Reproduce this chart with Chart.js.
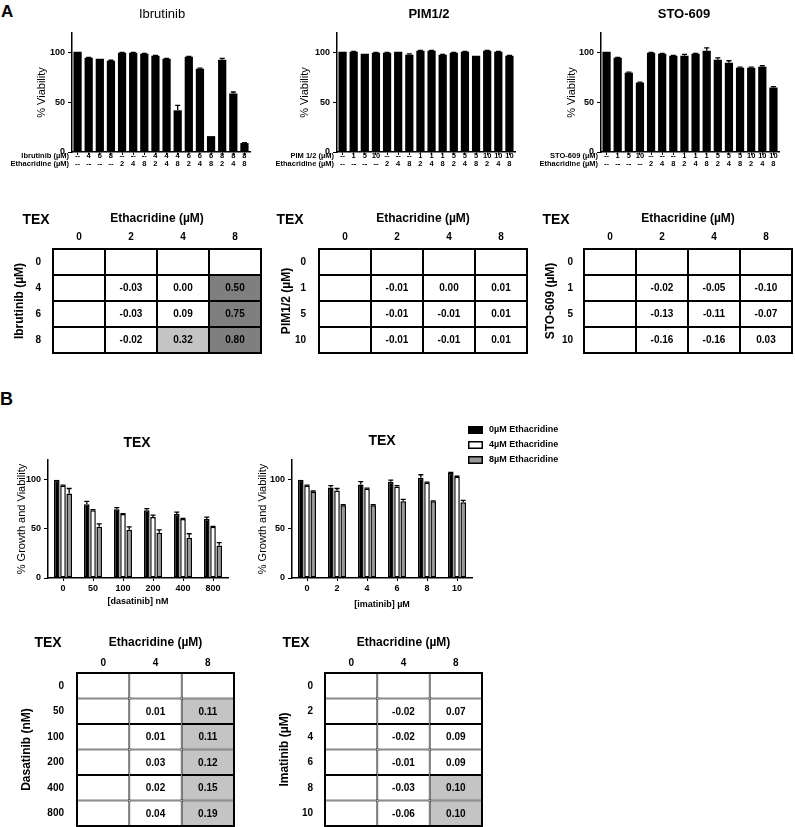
<!DOCTYPE html>
<html><head><meta charset="utf-8">
<script src="https://cdn.jsdelivr.net/npm/chart.js@4.4.1/dist/chart.umd.min.js"></script>
<style>
html,body{margin:0;padding:0;overflow:hidden;background:#fff}
body{width:795px;height:827px;position:relative;font-family:"Liberation Sans",Arial,Helvetica,sans-serif}
.panel{position:absolute;font-weight:bold;line-height:1;color:#000}
</style></head><body>
<div class="panel" style="left:1px;top:3px;font-size:17px">A</div>
<div class="panel" style="left:0px;top:390px;font-size:18px">B</div>
<script>
// ---------- Panel A data ----------
const ibrutinibDose   = ['--','4','6','8','--','--','--','4','4','4','6','6','6','8','8','8'];
const pimDose         = ['--','1','5','10','--','--','--','1','1','1','5','5','5','10','10','10'];
const stoDose         = ['--','1','5','10','--','--','--','1','1','1','5','5','5','10','10','10'];
const ethacridineDose = ['--','--','--','--','2','4','8','2','4','8','2','4','8','2','4','8'];
const ibrutinibViability = [101,95,94,92,100,100,99,97,94,42,96,84,16,93,59,9];
const ibrutinibErr       = [0,0.5,0,0.5,0.5,0.5,0.5,0.5,0.5,5,0.5,0.5,0,1.5,1.5,0.5];
const pimViability = [101,101,99,100,100,101,98,102,102,98,100,101,97,102,101,97];
const pimErr       = [0,0.5,0,0.5,0.5,0,1,0.5,0.5,0.5,0.5,0.5,0,0.5,0.5,0.5];
const stoViability = [101,95,80,70,100,99,97,97,99,102,93,90,85,85,86,65];
const stoErr       = [0,0.5,0.5,0.5,0.5,0.5,0.5,1.5,0.5,3,2,2,0.5,0.5,1,1];

// ---------- Panel A tables (synergy scores) ----------
const ethacridineColsA = ['0','2','4','8'];
const ibrutinibRows = ['0','4','6','8'];
const ibrutinibScores = [[null,null,null,null],[null,-0.03,0.00,0.50],[null,-0.03,0.09,0.75],[null,-0.02,0.32,0.80]];
const pimRows = ['0','1','5','10'];
const pimScores = [[null,null,null,null],[null,-0.01,0.00,0.01],[null,-0.01,-0.01,0.01],[null,-0.01,-0.01,0.01]];
const stoRows = ['0','1','5','10'];
const stoScores = [[null,null,null,null],[null,-0.02,-0.05,-0.10],[null,-0.13,-0.11,-0.07],[null,-0.16,-0.16,0.03]];

// ---------- Panel B data ----------
const seriesLabels = ['0µM Ethacridine','4µM Ethacridine','8µM Ethacridine'];
const dasatinibDose = ['0','50','100','200','400','800'];
const dasatinib0 = [100,75,70,69,65,60];
const dasatinib4 = [94,69,65,62,60,52];
const dasatinib8 = [86,52,49,46,41,33];
const dasatinib0Err = [0,3,1.5,1.5,2,2];
const dasatinib4Err = [0.5,0.5,0.5,2,0.5,0.5];
const dasatinib8Err = [5,3,3,3,4,3];
const imatinibDose = ['0','2','4','6','8','10'];
const imatinib0 = [100,92,95,98,102,107];
const imatinib4 = [94,89,91,93,97,103];
const imatinib8 = [88,74,74,78,78,77];
const imatinib0Err = [0,2,3,1.5,3,0.5];
const imatinib4Err = [0.5,2,0.5,1,0.5,0.5];
const imatinib8Err = [0.5,0.5,0.5,2,0.5,2];

const ethacridineColsB = ['0','4','8'];
const dasatinibRows = ['0','50','100','200','400','800'];
const dasatinibScores = [[null,null,null],[null,0.01,0.11],[null,0.01,0.11],[null,0.03,0.12],[null,0.02,0.15],[null,0.04,0.19]];
const imatinibRows = ['0','2','4','6','8','10'];
const imatinibScores = [[null,null,null],[null,-0.02,0.07],[null,-0.02,0.09],[null,-0.01,0.09],[null,-0.03,0.10],[null,-0.06,0.10]];

// ---------- helpers ----------
const FONT='"Liberation Sans", Arial, Helvetica, sans-serif';
Chart.defaults.font.family=FONT;
Chart.defaults.color='#000';

function makeCanvas(x,y,w,h){
  const c=document.createElement('canvas');
  c.width=w;c.height=h;
  c.style.cssText='position:absolute;left:'+x+'px;top:'+y+'px;width:'+w+'px;height:'+h+'px';
  document.body.appendChild(c);
  return c;
}

const pageText={
  id:'pageText',
  afterDraw(chart,args,opts){
    const ctx=chart.ctx;
    (opts.items||[]).forEach(t=>{
      ctx.save();
      ctx.font=t.font;ctx.fillStyle='#000';
      ctx.textAlign=t.align||'center';ctx.textBaseline='middle';
      ctx.translate(t.x-opts.ox,t.y-opts.oy);
      if(t.rot)ctx.rotate(t.rot);
      ctx.fillText(t.text,0,0);
      ctx.restore();
    });
  }
};

const errorBars={
  id:'errorBars',
  afterDatasetsDraw(chart,args,opts){
    const ctx=chart.ctx,ys=chart.scales.y;
    chart.data.datasets.forEach((ds,di)=>{
      if(!ds.errors)return;
      chart.getDatasetMeta(di).data.forEach((el,i)=>{
        const e=ds.errors[i];if(!e)return;
        const yTop=ys.getPixelForValue(ds.data[i]+e);
        ctx.save();ctx.strokeStyle='#000';ctx.lineWidth=1.3;
        ctx.beginPath();ctx.moveTo(el.x,el.y);ctx.lineTo(el.x,yTop);
        ctx.moveTo(el.x-opts.cap,yTop);ctx.lineTo(el.x+opts.cap,yTop);ctx.stroke();
        ctx.restore();
      });
    });
  }
};

const sideLegend={
  id:'sideLegend',
  afterDraw(chart,args,opts){
    if(!opts.show)return;
    const ctx=chart.ctx;
    chart.data.datasets.forEach((ds,i)=>{
      const x=opts.x-opts.ox,y=opts.y+i*opts.dy-opts.oy;
      ctx.save();
      ctx.fillStyle=ds.backgroundColor;ctx.fillRect(x,y-4,15,8);
      ctx.strokeStyle='#000';ctx.lineWidth=1.5;ctx.strokeRect(x+0.75,y-3.25,13.5,6.5);
      ctx.fillStyle='#000';ctx.font='bold 9px '+FONT;ctx.textAlign='left';ctx.textBaseline='middle';
      ctx.fillText(ds.label,x+21,y);
      ctx.restore();
    });
  }
};

function barChart(o){
  const cv=makeCanvas(o.x,o.y,o.w,o.h);
  const yW=o.area.l-o.x,padTop=o.area.t-o.y,padRight=o.x+o.w-o.area.r,xH=o.y+o.h-o.area.b;
  const yLH=o.yTitleSize*1.2, xLH=(o.xTitleSize||9)*1.2;
  return new Chart(cv,{
    type:'bar',
    data:{labels:o.labels,datasets:o.datasets},
    options:{
      responsive:false,animation:false,devicePixelRatio:1,
      layout:{padding:{left:0,top:padTop,right:padRight,bottom:0}},
      plugins:{legend:{display:false},tooltip:{enabled:false},
        pageText:{ox:o.x,oy:o.y,items:o.texts},
        errorBars:{cap:o.cap},
        sideLegend:Object.assign({ox:o.x,oy:o.y},o.legend||{})},
      scales:{
        x:{offset:true,
          grid:{display:true,drawOnChartArea:false,offset:false,drawTicks:true,tickLength:o.xTick,color:'#000',lineWidth:1},
          border:{display:true,color:'#000',width:1.5},
          ticks:{autoSkip:false,maxRotation:0,minRotation:0,padding:o.xPad,font:o.xFont,color:'#000'},
          title:o.xTitle?{display:true,text:o.xTitle,color:'#000',font:{size:o.xTitleSize,weight:'bold'},padding:{top:0,bottom:o.xTitleCy!==undefined?(o.y+o.h-o.xTitleCy-xLH/2):0}}:{display:false},
          afterFit:s=>{s.height=xH}
        },
        y:{min:0,max:120,
          ticks:{stepSize:50,includeBounds:false,padding:3,font:o.yFont,color:'#000'},
          grid:{display:true,drawOnChartArea:false,drawTicks:true,tickLength:4,color:'#000',lineWidth:1},
          border:{display:true,color:'#000',width:1.5},
          title:{display:true,text:o.yTitle,color:'#000',font:{size:o.yTitleSize,weight:'normal'},padding:{top:o.yTitleCx-o.x-yLH/2,bottom:0}},
          afterFit:s=>{s.width=yW}
        }
      }
    },
    plugins:[pageText,errorBars,sideLegend]
  });
}

function shade(v){
  if(v==null)return '#ffffff';
  if(v>=0.5)return '#7f7f7f';
  if(v>=0.1)return '#c4c4c4';
  return '#ffffff';
}

const cellText={
  id:'cellText',
  afterDatasetsDraw(chart){
    const ctx=chart.ctx;
    chart.data.datasets.forEach((ds,di)=>{
      chart.getDatasetMeta(di).data.forEach((el,i)=>{
        const v=ds.cellValues[i];if(v==null)return;
        ctx.save();ctx.font='bold 10px '+FONT;ctx.fillStyle='#000';ctx.textAlign='center';ctx.textBaseline='middle';
        ctx.fillText(v.toFixed(2),el.x,(el.y+el.base)/2+0.5);
        ctx.restore();
      });
    });
    const a=chart.chartArea;
    ctx.save();ctx.strokeStyle='#000';ctx.lineWidth=2;
    ctx.strokeRect(a.left,a.top,a.right-a.left,a.bottom-a.top);ctx.restore();
  }
};

function tableChart(o){
  const cv=makeCanvas(o.x,o.y,o.w,o.h);
  const g=o.grid;
  const yW=g.l-o.x,xH=g.t-o.y,padRight=o.x+o.w-g.r,padBottom=o.y+o.h-g.b;
  const n=o.rows.length;
  const datasets=o.rows.map((r,ri)=>({
    data:o.cols.map(()=>[ri,ri+1]),
    backgroundColor:o.cols.map((c,ci)=>shade(o.scores[ri][ci])),
    borderColor:'#000',borderWidth:1,borderSkipped:false,inflateAmount:0,
    grouped:false,categoryPercentage:1,barPercentage:1,
    cellValues:o.scores[ri]
  }));
  return new Chart(cv,{
    type:'bar',
    data:{labels:o.cols,datasets},
    options:{
      responsive:false,animation:false,devicePixelRatio:1,
      layout:{padding:{left:0,top:0,right:padRight,bottom:padBottom}},
      plugins:{legend:{display:false},tooltip:{enabled:false},
        pageText:{ox:o.x,oy:o.y,items:[{text:'TEX',x:o.texX,y:o.texY,font:'bold 14px '+FONT}]}},
      scales:{
        x:{position:'top',offset:true,grid:{display:false,drawTicks:false},border:{display:false},
          ticks:{autoSkip:false,maxRotation:0,font:{size:10,weight:'bold'},color:'#000',padding:o.colPad},
          title:{display:true,text:'Ethacridine (µM)',color:'#000',font:{size:12,weight:'bold'},padding:{top:o.titleCy-o.y-7.2,bottom:0}},
          afterFit:s=>{s.height=xH}},
        y:{type:'linear',min:0,max:n,reverse:true,grid:{display:false,drawTicks:false},border:{display:false},
          afterBuildTicks:s=>{s.ticks=o.rows.map((_,i)=>({value:i+0.5}))},
          ticks:{autoSkip:false,font:{size:10,weight:'bold'},color:'#000',padding:o.rowPad,callback:(v,i)=>o.rows[i]},
          title:{display:true,text:o.yTitle,color:'#000',font:{size:12,weight:'bold'},padding:{top:o.yTitleCx-o.x-7.2,bottom:0}},
          afterFit:s=>{s.width=yW}}
      }
    },
    plugins:[pageText,cellText]
  });
}

// ---------- Panel A bar charts ----------
const tickFontA={size:7.5,weight:'bold',lineHeight:1.07};
function aChart(x,w,area,title,titleBold,titleX,doseLabel,dose,vals,errs,yTitleCx){
  barChart({x:x,y:0,w:w,h:175,area:area,
    labels:dose.map((d,i)=>[d,ethacridineDose[i]]),
    datasets:[{data:vals,errors:errs,backgroundColor:'#000',borderWidth:0,categoryPercentage:1,barPercentage:0.74}],
    xTick:3,xPad:-3,xFont:tickFontA,yFont:{size:9,weight:'bold'},
    yTitle:'% Viability',yTitleSize:11,yTitleCx:yTitleCx,cap:2.5,
    texts:[
      {text:title,x:titleX,y:14,font:(titleBold?'bold ':'')+'13px '+FONT},
      {text:doseLabel,x:area.l-3,y:156,align:'right',font:'bold 7.5px '+FONT},
      {text:'Ethacridine (µM)',x:area.l-3,y:164,align:'right',font:'bold 7.5px '+FONT}
    ]});
}
aChart(0,262,{l:72,t:33,r:250,b:152},'Ibrutinib',false,162,'Ibrutinib (µM)',ibrutinibDose,ibrutinibViability,ibrutinibErr,42);
aChart(262,265,{l:337,t:33,r:515,b:152},'PIM1/2',true,429,'PIM 1/2 (µM)',pimDose,pimViability,pimErr,305);
aChart(527,268,{l:601,t:33,r:779,b:152},'STO-609',true,684,'STO-609 (µM)',stoDose,stoViability,stoErr,572);

// ---------- Panel A tables ----------
tableChart({x:0,y:205,w:270,h:175,grid:{l:53,t:249,r:261,b:353},cols:ethacridineColsA,rows:ibrutinibRows,scores:ibrutinibScores,
  yTitle:'Ibrutinib (µM)',yTitleCx:20,titleCy:219,colPad:6,rowPad:12,texX:36,texY:220});
tableChart({x:270,y:205,w:265,h:175,grid:{l:319,t:249,r:527,b:353},cols:ethacridineColsA,rows:pimRows,scores:pimScores,
  yTitle:'PIM1/2 (µM)',yTitleCx:287,titleCy:219,colPad:6,rowPad:13,texX:290,texY:220});
tableChart({x:535,y:205,w:270,h:175,grid:{l:584,t:249,r:792,b:353},cols:ethacridineColsA,rows:stoRows,scores:stoScores,
  yTitle:'STO-609 (µM)',yTitleCx:551,titleCy:219,colPad:6,rowPad:11,texX:556,texY:220});

// ---------- Panel B bar charts ----------
function bSets(d0,d4,d8,e0,e4,e8){
  const common={borderColor:'#000',borderWidth:1.5,borderSkipped:false,categoryPercentage:0.62,barPercentage:0.9};
  return [
    Object.assign({label:seriesLabels[0],data:d0,errors:e0,backgroundColor:'#000000'},common),
    Object.assign({label:seriesLabels[1],data:d4,errors:e4,backgroundColor:'#ffffff'},common),
    Object.assign({label:seriesLabels[2],data:d8,errors:e8,backgroundColor:'#999999'},common)
  ];
}
barChart({x:10,y:425,w:230,h:187,area:{l:48,t:460,r:228,b:578},
  labels:dasatinibDose,datasets:bSets(dasatinib0,dasatinib4,dasatinib8,dasatinib0Err,dasatinib4Err,dasatinib8Err),
  xTick:3,xPad:2,xFont:{size:9,weight:'bold'},yFont:{size:9,weight:'bold'},
  xTitle:'[dasatinib] nM',xTitleSize:9,xTitleCy:602,
  yTitle:'% Growth and Viability',yTitleSize:11,yTitleCx:22,cap:2.5,
  texts:[{text:'TEX',x:137,y:443,font:'bold 14px '+FONT}]});
barChart({x:255,y:420,w:345,h:192,area:{l:292,t:460,r:472,b:578},
  labels:imatinibDose,datasets:bSets(imatinib0,imatinib4,imatinib8,imatinib0Err,imatinib4Err,imatinib8Err),
  xTick:3,xPad:2,xFont:{size:9,weight:'bold'},yFont:{size:9,weight:'bold'},
  xTitle:'[imatinib] µM',xTitleSize:9,xTitleCy:605,
  yTitle:'% Growth and Viability',yTitleSize:11,yTitleCx:263,cap:2.5,
  legend:{show:true,x:468,y:430,dy:15},
  texts:[{text:'TEX',x:382,y:441,font:'bold 14px '+FONT}]});

// ---------- Panel B tables ----------
tableChart({x:10,y:628,w:235,h:222,grid:{l:77,t:673,r:234,b:826},cols:ethacridineColsB,rows:dasatinibRows,scores:dasatinibScores,
  yTitle:'Dasatinib (nM)',yTitleCx:27,titleCy:643,colPad:4,rowPad:13,texX:48,texY:643});
tableChart({x:268,y:628,w:225,h:222,grid:{l:325,t:673,r:482,b:826},cols:ethacridineColsB,rows:imatinibRows,scores:imatinibScores,
  yTitle:'Imatinib (µM)',yTitleCx:285,titleCy:643,colPad:4,rowPad:12,texX:296,texY:643});
</script>
</body></html>
